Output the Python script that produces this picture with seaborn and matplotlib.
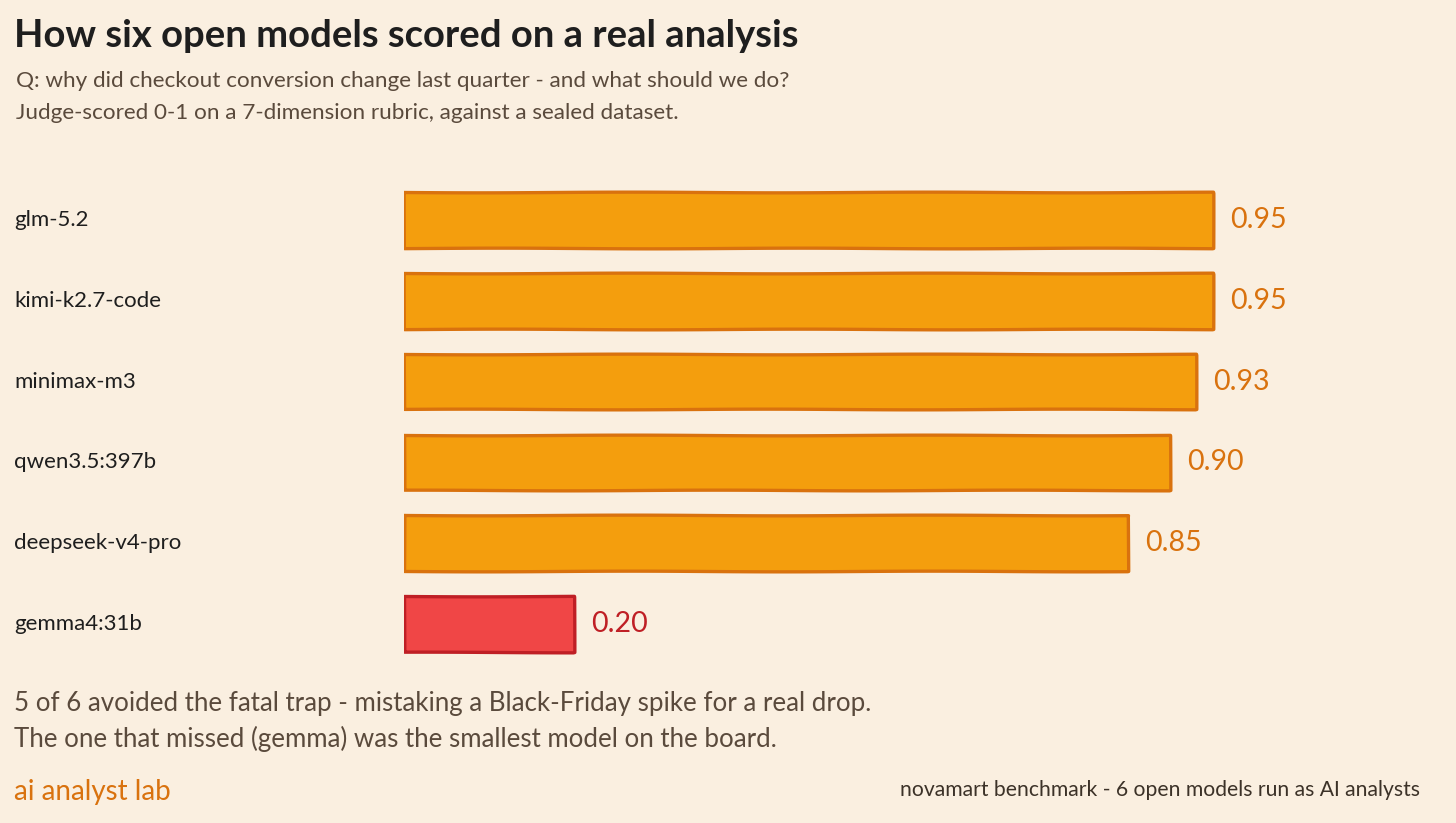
import matplotlib
matplotlib.use("Agg")
import matplotlib.pyplot as plt
import seaborn as sns
import pandas as pd

models = ["glm-5.2", "kimi-k2.7-code", "minimax-m3", "qwen3.5:397b", "deepseek-v4-pro", "gemma4:31b"]
scores = [0.95, 0.95, 0.93, 0.90, 0.85, 0.20]
passed = [True, True, True, True, True, False]

title = "How six open models scored on a real analysis"
subtitle = ["Q: why did checkout conversion change last quarter - and what should we do?",
            "Judge-scored 0-1 on a 7-dimension rubric, against a sealed dataset."]
note = ["5 of 6 avoided the fatal trap - mistaking a Black-Friday spike for a real drop.",
        "The one that missed (gemma) was the smallest model on the board."]
brand = "ai analyst lab"
source = "novamart benchmark - 6 open models run as AI analysts"

bg = "#faefe0"
fill_ok, edge_ok, text_ok = "#f49e0d", "#d9720e", "#d9720e"
fill_bad, edge_bad, text_bad = "#f04646", "#bf1f25", "#bf1f25"
muted = "#5a4a3c"

sns.set_theme(style="white")
plt.rcParams["font.family"] = ["Lato", "DejaVu Sans"]

df = pd.DataFrame({"model": models, "score": scores})
fills = [fill_ok if p else fill_bad for p in passed]
edges = [edge_ok if p else edge_bad for p in passed]

fig = plt.figure(figsize=(14.56, 8.23), dpi=100, facecolor=bg)
# axes placed so that x=0 sits at 404px and 1.0 spans ~852px
ax = fig.add_axes([404 / 1456, 1 - 664.4 / 823, 851.6 / 1456, (664.4 - 179.6) / 823])
ax.set_facecolor(bg)

sns.barplot(data=df, x="score", y="model", hue="model", palette=fills, saturation=1,
            legend=False, width=0.69, linewidth=2.4, ax=ax)

# light hand-drawn wobble on the outlines
for patch, ec in zip(ax.patches, edges):
    patch.set_edgecolor(ec)
    patch.set_joinstyle("round")
    patch.set_sketch_params(0.35, 300, 1.0)

for i, (s, p) in enumerate(zip(scores, passed)):
    ax.text(s + 0.02, i, f"{s:.2f}", va="center", ha="left", fontsize=20.5,
            color=text_ok if p else text_bad, clip_on=False)

ax.set_xlim(0, 1)
ax.set_xlabel("")
ax.set_ylabel("")
ax.set_xticks([])
ax.set_yticks([])
sns.despine(ax=ax, left=True, bottom=True)

# model names on the far left of the figure
for i, m in enumerate(models):
    y_disp = ax.transData.transform((0, i))[1]
    fig.text(14 / 1456, y_disp / 823, m, ha="left", va="center", fontsize=16, color="#1e1e1e")

fig.text(14 / 1456, 1 - 36 / 823, title, ha="left", va="center", fontsize=27.5,
         color="#1e1e1e", fontweight="bold")
fig.text(16 / 1456, 1 - 81 / 823, subtitle[0], ha="left", va="center", fontsize=16.2, color=muted)
fig.text(16 / 1456, 1 - 113 / 823, subtitle[1], ha="left", va="center", fontsize=16.2, color=muted)
fig.text(14 / 1456, 1 - 703 / 823, note[0], ha="left", va="center", fontsize=18.6, color=muted)
fig.text(14 / 1456, 1 - 739 / 823, note[1], ha="left", va="center", fontsize=18.6, color=muted)
fig.text(14 / 1456, 1 - 792 / 823, brand, ha="left", va="center", fontsize=20, color=text_ok)
fig.text(1420 / 1456, 1 - 790 / 823, source, ha="right", va="center", fontsize=15.2, color="#3c3228")

fig.savefig("out.png", dpi=100, facecolor=bg)
